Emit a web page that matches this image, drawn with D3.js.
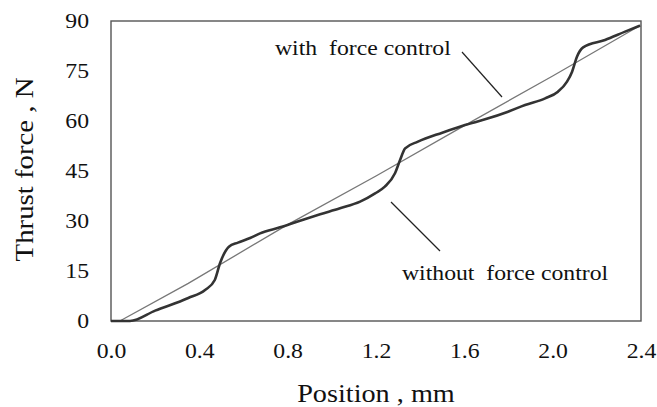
<!DOCTYPE html>
<html>
<head>
<meta charset="utf-8">
<script src="https://cdn.jsdelivr.net/npm/d3@7"></script>
<style>
  html, body { margin: 0; padding: 0; background: #fff; }
  svg { display: block; }
  svg text { font-family: "Liberation Serif", "DejaVu Serif", serif; fill: #111; }
</style>
</head>
<body>
<svg id="chart" width="657" height="407"></svg>
<script>
// Thrust force vs. position, with and without force control
const xTicks = [0.0, 0.4, 0.8, 1.2, 1.6, 2.0, 2.4];
const yTicks = [0, 15, 30, 45, 60, 75, 90];

// without force control (thick curve)
const posWithout = [0, 0.086, 0.2, 0.35, 0.426, 0.47, 0.494, 0.534, 0.575, 0.63, 0.675, 0.765, 0.856, 0.947, 1.037, 1.128, 1.196, 1.24, 1.286, 1.309, 1.332, 1.39, 1.5, 1.603, 1.694, 1.798, 1.875, 1.966, 2.024, 2.065, 2.088, 2.11, 2.138, 2.237, 2.328, 2.396];
const forceWithout = [0, 0, 3.1, 6.9, 9.3, 12.3, 17.4, 22.3, 23.5, 24.9, 26.3, 28.1, 30.1, 32.0, 33.8, 35.8, 38.3, 40.3, 44.3, 48.3, 51.8, 53.8, 56.5, 58.8, 60.5, 62.8, 64.8, 66.8, 68.8, 71.8, 74.8, 79.3, 82.1, 84.3, 86.8, 88.6];

// with force control (thin curve)
const posWith = [0.04, 0.35, 0.8, 1.2, 1.6, 2.0, 2.4];
const forceWith = [0, 11.3, 28.9, 43.5, 58.6, 73.5, 88.8];

const labelWith = "with\u00a0 force control";
const labelWithout = "without\u00a0 force control";
const xTitle = "Position , mm";
const yTitle = "Thrust force , N";

const SERIF = '"Liberation Serif", "DejaVu Serif", serif';
const SX = 1.13; // glyph stretch along the text direction
const margin = { left: 111, top: 21, right: 16, bottom: 86 };
const W = 657, H = 407;
const iw = W - margin.left - margin.right;
const ih = H - margin.top - margin.bottom;

const svg = d3.select("#chart");
const g = svg.append("g").attr("transform", `translate(${margin.left},${margin.top})`);

const x = d3.scaleLinear().domain([0, 2.4]).range([0, iw]);
const y = d3.scaleLinear().domain([0, 90]).range([ih, 0]);

// frame
g.append("rect").attr("x", 0).attr("y", 0).attr("width", iw).attr("height", ih)
  .attr("fill", "none").attr("stroke", "#555").attr("stroke-width", 1.4);

// axes
const xAxis = g.append("g").attr("transform", `translate(0,${ih})`)
  .call(d3.axisBottom(x).tickValues(xTicks).tickFormat(d3.format(".1f")).tickSize(0).tickPadding(22));
const yAxis = g.append("g")
  .call(d3.axisLeft(y).tickValues(yTicks).tickFormat(d3.format("d")).tickSize(0).tickPadding(22));
[xAxis, yAxis].forEach(a => {
  a.attr("font-family", SERIF);
  a.select(".domain").remove();
  a.selectAll("text").attr("font-size", 21).attr("fill", "#111")
    .attr("font-family", SERIF);
});
xAxis.selectAll("text").attr("transform", `scale(${SX},1)`).attr("x", 0);
yAxis.selectAll("text").attr("transform", `scale(${SX},1)`).attr("x", -22 / SX);

// curves
const smooth = d3.line().x(d => x(d[0])).y(d => y(d[1])).curve(d3.curveMonotoneX);
const straight = d3.line().x(d => x(d[0])).y(d => y(d[1]));
g.append("path").datum(d3.zip(posWith, forceWith)).attr("d", straight)
  .attr("fill", "none").attr("stroke", "#777").attr("stroke-width", 1.3);
g.append("path").datum(d3.zip(posWithout, forceWithout)).attr("d", smooth)
  .attr("fill", "none").attr("stroke", "#333").attr("stroke-width", 2.6)
  .attr("stroke-linejoin", "round");

// annotations
function label(txt, px, py, size, anchor) {
  svg.append("text")
    .attr("transform", `translate(${px},${py}) scale(${SX},1)`)
    .attr("font-size", size).attr("text-anchor", anchor || "start")
    .attr("font-family", SERIF)
    .text(txt);
}
label(labelWith, 275, 55, 21);
label(labelWithout, 402, 280, 21);

svg.append("line").attr("x1", 462).attr("y1", 52).attr("x2", 502).attr("y2", 97)
  .attr("stroke", "#222").attr("stroke-width", 1.2);
svg.append("line").attr("x1", 391).attr("y1", 202).attr("x2", 440).attr("y2", 251)
  .attr("stroke", "#222").attr("stroke-width", 1.2);

// axis titles
label(xTitle, margin.left + iw / 2, 401.5, 25, "middle");
svg.append("text")
  .attr("transform", `translate(32.5,169.5) rotate(-90) scale(${SX},1)`)
  .attr("font-size", 25.5).attr("text-anchor", "middle")
  .attr("font-family", SERIF)
  .text(yTitle);
</script>
</body>
</html>
